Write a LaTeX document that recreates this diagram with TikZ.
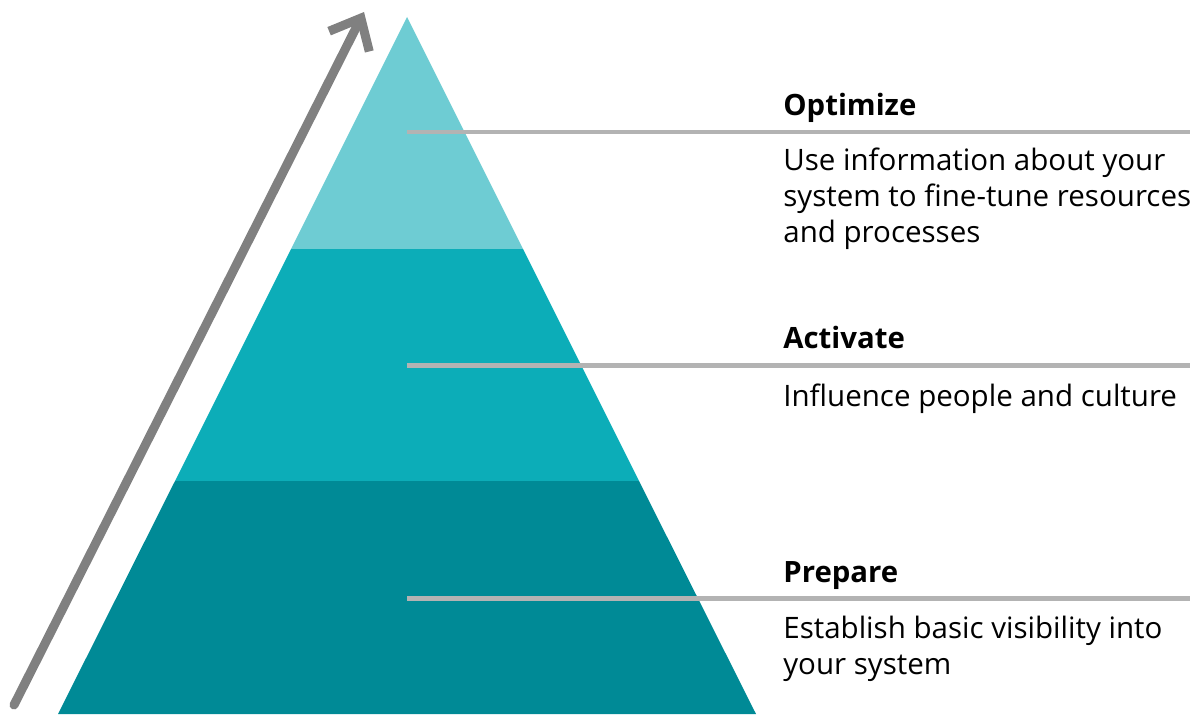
\documentclass[tikz,border=0pt]{standalone}
\usepackage{fontspec}
\setmainfont{Open Sans}
\usetikzlibrary{arrows.meta}
\definecolor{tierTop}{HTML}{6ECCD3}
\definecolor{tierMid}{HTML}{0CADB8}
\definecolor{tierLow}{HTML}{008A96}
\definecolor{ruleGray}{HTML}{B3B3B3}
\definecolor{arrowGray}{HTML}{808080}
\tikzset{
    rulebar/.style={draw=ruleGray, line width=0.1cm},
    title/.style={anchor=base west, inner sep=0, font=\fontsize{16.7}{20.4}\selectfont\bfseries},
    desc/.style={anchor=base west, inner sep=0, align=left, font=\fontsize{16.8}{20.4}\selectfont},
}
\begin{document}
\begin{tikzpicture}[x=0.02cm, y=-0.02cm]
    \useasboundingbox (0,0) rectangle (1200,723);
    % pyramid corners
    \coordinate (apex) at (407,17);
    \coordinate (baseL) at (58,714);
    \coordinate (baseR) at (756,714);
    \coordinate (topL) at (291,249);
    \coordinate (topR) at (523,249);
    \coordinate (midL) at (175,481);
    \coordinate (midR) at (639,481);
    \fill[tierTop] (apex) -- (topR) -- (topL) -- cycle;
    \fill[tierMid] (topL) -- (topR) -- (midR) -- (midL) -- cycle;
    \fill[tierLow] (midL) -- (midR) -- (baseR) -- (baseL) -- cycle;
    % rising arrow
    \coordinate (riseA) at (14,705);
    \coordinate (riseB) at (364,12);
    \draw[arrowGray, line width=0.18cm, line cap=round,
        -{Straight Barb[length=0.52cm, width=0.9cm, line cap=butt]}] (riseA) -- (riseB);
    % labels
    \foreach \y/\name in {132/opt, 365/act, 598/prep} {
        \coordinate (\name L) at (407,\y);
        \coordinate (\name R) at (1190,\y);
        \draw[rulebar] (\name L) -- (\name R);
    }
    \node[title] (optT) at (783,115) {Optimize};
    \node[desc] (optD) at (783,242) {Use information about your\\system to fine-tune resources\\and processes};
    \node[title] (actT) at (783,348) {Activate};
    \node[desc] (actD) at (783,406) {Influence people and culture};
    \node[title] (prepT) at (783,582) {Prepare};
    \node[desc] (prepD) at (783,674) {Establish basic visibility into\\your system};
\end{tikzpicture}
\end{document}
